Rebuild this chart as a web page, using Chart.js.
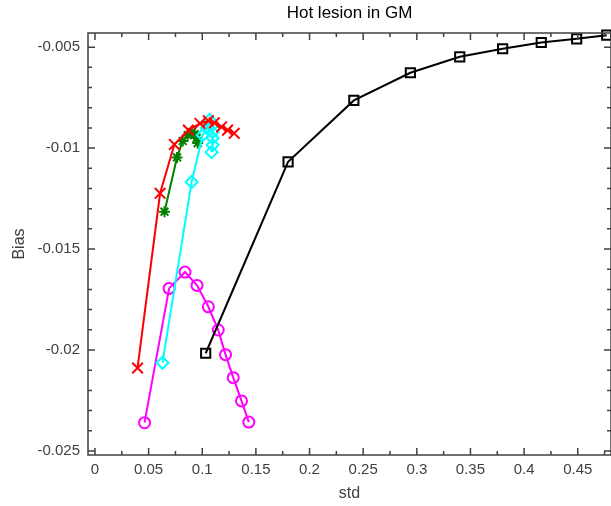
<!DOCTYPE html>
<html>
<head>
<meta charset="utf-8">
<script src="https://cdn.jsdelivr.net/npm/chart.js@4.4.0/dist/chart.umd.min.js"></script>
<style>
  html, body { margin: 0; padding: 0; background: #fff; }
  #wrap { width: 611px; height: 506px; }
</style>
</head>
<body>
<div id="wrap"><canvas id="chart" width="611" height="506"></canvas></div>
<script>
'use strict';

// values (std, bias)
var redStd = [0.0397, 0.0607, 0.0740, 0.0871, 0.0979, 0.1057, 0.1112, 0.1180, 0.1236, 0.1298];
var redBias = [-0.02089, -0.01224, -0.00982, -0.00911, -0.00878, -0.00865, -0.00875, -0.00895, -0.00911, -0.00927];

var greenStd = [0.0648, 0.0765, 0.0818, 0.0864, 0.0901, 0.0929, 0.0948, 0.0957];
var greenBias = [-0.01315, -0.01046, -0.00965, -0.00936, -0.00921, -0.00931, -0.00950, -0.00975];

var cyanStd = [0.0629, 0.0901, 0.1004, 0.1041, 0.1069, 0.1087, 0.1097, 0.1097, 0.1097, 0.1087];
var cyanBias = [-0.02063, -0.01168, -0.00936, -0.00901, -0.00861, -0.00891, -0.00921, -0.00950, -0.00985, -0.01020];

var magentaStd = [0.0462, 0.0691, 0.0839, 0.0951, 0.1057, 0.1149, 0.1217, 0.1289, 0.1366, 0.1434];
var magentaBias = [-0.0236, -0.01695, -0.01614, -0.0168, -0.01786, -0.01901, -0.02023, -0.02137, -0.02252, -0.02357];

var blackStd = [0.1032, 0.1800, 0.2413, 0.2940, 0.3400, 0.3800, 0.4160, 0.4490, 0.4770];
var blackBias = [-0.02016, -0.01068, -0.00764, -0.00627, -0.00548, -0.00508, -0.00477, -0.00459, -0.00441];

var xTickStep = 0.05;
var yTickStep = 0.005;
var titleText = 'Hot lesion in GM';
var xLabel = 'std';
var yLabel = 'Bias';

var axisColor = '#404040';
var fontFamily = '"Liberation Sans", Arial, Helvetica, sans-serif';

function pairs(xs, ys) {
    return xs.map(function(x, i) { return { x: x, y: ys[i] }; });
}

function series(xs, ys, color, style, radius) {
    return {
        data: pairs(xs, ys),
        borderColor: color,
        backgroundColor: 'rgba(0,0,0,0)',
        borderWidth: 2,
        pointStyle: style,
        pointRadius: radius,
        pointHoverRadius: radius,
        pointBorderWidth: 2,
        pointBorderColor: color,
        pointBackgroundColor: 'rgba(0,0,0,0)',
        showLine: true,
        tension: 0,
        clip: false
    };
}

function fmt(v) {
    return String(parseFloat(v.toFixed(4)));
}

// MATLAB style box with inward major and minor ticks, plus the title
var boxTicks = {
    id: 'boxTicks',
    afterDraw: function(chart) {
        var ctx = chart.ctx;
        var a = chart.chartArea;
        var xs = chart.scales.x;
        var ys = chart.scales.y;
        ctx.save();
        ctx.strokeStyle = axisColor;
        ctx.lineWidth = 1.5;
        ctx.strokeRect(a.left, a.top, a.right - a.left, a.bottom - a.top);

        var major = 7, minor = 4;
        ctx.beginPath();
        var v, px, py;
        for (v = Math.ceil(xs.min / (xTickStep / 2)) * (xTickStep / 2); v <= xs.max + 1e-9; v += xTickStep / 2) {
            px = xs.getPixelForValue(v);
            var isMajor = Math.abs(v / xTickStep - Math.round(v / xTickStep)) < 1e-6;
            var len = isMajor ? major : minor;
            ctx.moveTo(px, a.bottom); ctx.lineTo(px, a.bottom - len);
            ctx.moveTo(px, a.top); ctx.lineTo(px, a.top + len);
        }
        var yMinor = yTickStep / 5;
        for (v = Math.ceil(ys.min / yMinor) * yMinor; v <= ys.max + 1e-9; v += yMinor) {
            py = ys.getPixelForValue(v);
            var isMajorY = Math.abs(v / yTickStep - Math.round(v / yTickStep)) < 1e-6;
            var lenY = isMajorY ? major : minor;
            ctx.moveTo(a.left, py); ctx.lineTo(a.left + lenY, py);
            ctx.moveTo(a.right, py); ctx.lineTo(a.right - lenY, py);
        }
        ctx.stroke();

        ctx.fillStyle = '#000';
        ctx.font = '17px ' + fontFamily;
        ctx.textAlign = 'center';
        ctx.textBaseline = 'middle';
        ctx.fillText(titleText, (a.left + a.right) / 2, 13);
        ctx.restore();
    }
};

var ctx = document.getElementById('chart').getContext('2d');
var chart = new Chart(ctx, {
    type: 'scatter',
    data: {
        datasets: [
            series(redStd, redBias, '#ff0000', 'crossRot', 7.5),
            series(blackStd, blackBias, '#000000', 'rect', 6.5),
            series(cyanStd, cyanBias, '#00ffff', 'rectRot', 6),
            series(greenStd, greenBias, '#007f00', 'star', 5.5),
            series(magentaStd, magentaBias, '#ff00ff', 'circle', 5.5)
        ]
    },
    options: {
        responsive: false,
        animation: false,
        events: [],
        layout: { autoPadding: false, padding: { top: 33, left: 0, right: 0, bottom: 0 } },
        plugins: {
            legend: { display: false },
            title: { display: false },
            tooltip: { enabled: false }
        },
        scales: {
            x: {
                type: 'linear',
                min: -0.0065,
                max: 0.481,
                grid: { display: false, drawTicks: false },
                border: { display: false },
                ticks: {
                    stepSize: xTickStep,
                    includeBounds: false,
                    autoSkip: false,
                    maxRotation: 0,
                    padding: 6,
                    color: axisColor,
                    font: { family: fontFamily, size: 15 },
                    callback: function(v) { return fmt(v); }
                },
                title: {
                    display: true,
                    text: xLabel,
                    color: axisColor,
                    font: { family: fontFamily, size: 16 },
                    padding: { top: 0, bottom: 3 }
                },
                afterFit: function(scale) {
                    scale.height = 51;
                    scale.paddingLeft = 0;
                    scale.paddingRight = 0;
                }
            },
            y: {
                type: 'linear',
                min: -0.0252,
                max: -0.0043,
                grid: { display: false, drawTicks: false },
                border: { display: false },
                ticks: {
                    stepSize: yTickStep,
                    includeBounds: false,
                    autoSkip: false,
                    padding: 8,
                    color: axisColor,
                    font: { family: fontFamily, size: 15 },
                    callback: function(v) { return fmt(v); }
                },
                title: {
                    display: true,
                    text: yLabel,
                    color: axisColor,
                    font: { family: fontFamily, size: 16 },
                    padding: { top: 10, bottom: 0 }
                },
                afterFit: function(scale) {
                    scale.width = 88;
                    scale.paddingTop = 0;
                    scale.paddingBottom = 0;
                }
            }
        }
    },
    plugins: [boxTicks]
});
</script>
</body>
</html>
